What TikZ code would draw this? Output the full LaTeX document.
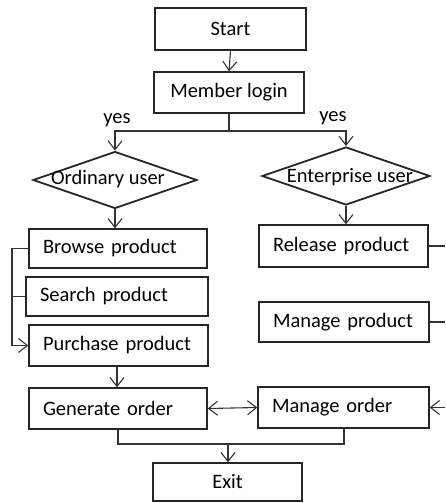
\documentclass[tikz,border=0pt]{standalone}
\usepackage{fontspec}
\setmainfont{Carlito}
\usetikzlibrary{shapes.geometric,arrows.meta}
\begin{document}
\begin{tikzpicture}[x=1pt,y=-1pt,
  font=\fontsize{20.5}{24}\selectfont,
  box/.style={draw=black!85,line width=1.3pt,rectangle,inner sep=0pt},
  lbox/.style={box,align=left,inner xsep=14pt,inner ysep=0pt},
  dia/.style={draw=black!85,line width=1.8pt,diamond,inner sep=0pt},
  con/.style={draw=black!80,line width=1.1pt},
  tip/.style={Straight Barb[length=9pt,width=14pt,line width=1.1pt]},
  arr/.style={con,-{Straight Barb[length=9pt,width=14pt,line width=1.1pt]}},
  darr/.style={con,{Straight Barb[length=9pt,width=14pt,line width=1.1pt]}-{Straight Barb[length=9pt,width=14pt,line width=1.1pt]}}]
\useasboundingbox (0,0) rectangle (445,503);
% boxes
\node[box,minimum width=151pt,minimum height=42pt] (start) at (230.5,29) {Start};
\node[box,minimum width=150pt,minimum height=41pt] (login) at (229,92.5) {Member login};
\node[dia,minimum width=164pt,minimum height=57pt] (ord) at (115,180) {};
\node[inner sep=0pt] (ordt) at (108,179) {Ordinary user};
\node[dia,minimum width=168pt,minimum height=58pt] (ent) at (346,176) {};
\node[inner sep=0pt] (entt) at (350,177) {Enterprise user};
\node[lbox,text width=150pt,minimum height=39pt] (browse) at (118,248.5) {Browse product};
\node[lbox,text width=154pt,minimum height=39pt] (search) at (117,296.5) {Search product};
\node[lbox,text width=151pt,minimum height=41pt] (purchase) at (118.5,345.5) {Purchase product};
\node[lbox,text width=150pt,minimum height=41pt] (generate) at (118,408.5) {Generate order};
\node[lbox,text width=141pt,minimum height=42pt] (release) at (343.5,246) {Release product};
\node[lbox,text width=142pt,minimum height=40pt] (mproduct) at (344,322) {Manage product};
\node[lbox,text width=143pt,minimum height=41pt] (morder) at (343.5,407.5) {Manage order};
\node[box,minimum width=149pt,minimum height=38pt] (exit) at (227.5,482) {Exit};
% labels
\node[inner sep=0pt] (yes1) at (117,120) {yes};
\node[inner sep=0pt] (yes2) at (333,118) {yes};
% connectors
\draw[arr] (start.south) -- (login.north);
\coordinate (j1) at (login.south |- 0,131);
\draw[con] (login.south) -- (j1);
\draw[arr] (j1) -| (ord.north);
\draw[arr] (j1) -| (ent.north);
\draw[arr] (ord.south) -- (ord.south |- browse.north);
\draw[arr] (ent.south) -- (ent.south |- release.north);
\coordinate (bx) at (12,0);
\draw[arr] (browse.west) -- (browse.west -| bx) |- (purchase.west);
\draw[con] (search.west) -- (search.west -| bx);
\draw[arr] (purchase.south -| 117,0) -- (generate.north -| 117,0);
\draw[darr] (generate.east) -- (morder.west);
\coordinate (r1) at (445,246);
\coordinate (r2) at (445,322);
\coordinate (r3) at (445,407.5);
\draw[con] (release.east) -- (r1);
\draw[con] (mproduct.east) -- (r2);
\draw[arr] (r3) -- (morder.east);
\coordinate (b1) at (118,444);
\coordinate (b2) at (344,444);
\draw[con] (generate.south -| b1) -- (b1) -- (b2) -- (morder.south -| b2);
\draw[arr] (228,444) -- (exit.north -| 228,0);
\end{tikzpicture}
\end{document}
